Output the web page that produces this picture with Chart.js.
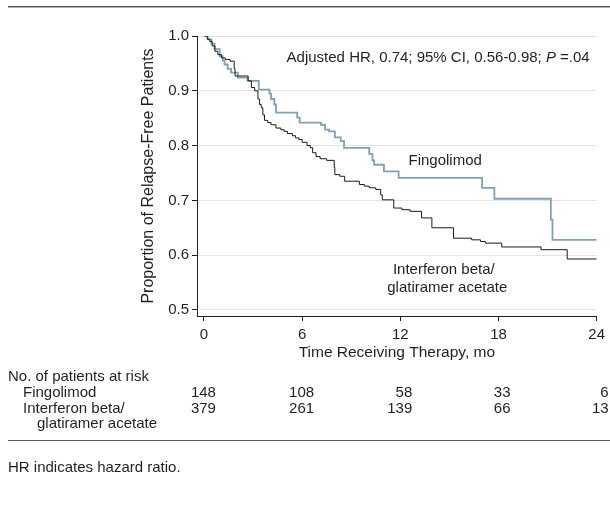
<!DOCTYPE html>
<html>
<head>
<meta charset="utf-8">
<script src="https://cdn.jsdelivr.net/npm/chart.js@4.4.1/dist/chart.umd.min.js"></script>
<style>
  body { margin: 0; background: #fff; }
  #wrap { position: relative; width: 610px; height: 514px; }
  #note { position: absolute; left: 8px; top: 458px; font: 15px 'Liberation Sans', Arial, sans-serif; color: #231f20; }
</style>
</head>
<body>
<div id="wrap">
  <canvas id="km" width="610" height="514"></canvas>
  <div id="note">HR indicates hazard ratio.</div>
</div>
<script>
// Kaplan-Meier steps (months, proportion relapse-free)
const fingTime = [0, 0.24, 0.45, 0.65, 0.96, 1.15, 1.26, 1.45, 1.66, 2.07, 2.67, 3.35, 4.0, 4.1, 4.3, 4.4, 5.7, 5.85, 7.15, 7.4, 7.65, 8.0, 8.36, 8.56, 10.1, 10.3, 10.4, 11.0, 11.9, 17.0, 17.75, 21.2, 21.3, 24];
const fingSurv = [1.0, 0.994, 0.986, 0.976, 0.963, 0.955, 0.948, 0.94, 0.933, 0.924, 0.918, 0.902, 0.895, 0.885, 0.875, 0.86, 0.851, 0.842, 0.838, 0.829, 0.826, 0.815, 0.808, 0.796, 0.785, 0.773, 0.765, 0.753, 0.741, 0.723, 0.703, 0.665, 0.628, 0.628];

const ifnTime = [0, 0.2, 0.36, 0.5, 0.67, 0.85, 1.07, 1.3, 1.6, 1.85, 1.9, 2.7, 2.9, 3.1, 3.3, 3.4, 3.5, 3.6, 3.7, 3.9, 4.1, 4.4, 4.7, 4.9, 5.1, 5.4, 5.6, 5.8, 6.0, 6.3, 6.5, 6.64, 6.85, 7.1, 7.5, 7.96, 8.0, 8.3, 8.6, 9.5, 9.8, 10.1, 10.5, 10.8, 10.9, 11.6, 12.1, 12.6, 13.3, 13.93, 15.25, 16.36, 16.9, 17.2, 18.2, 20.6, 22.2, 24];
const ifnSurv = [1.0, 0.994, 0.99, 0.982, 0.972, 0.966, 0.96, 0.957, 0.954, 0.94, 0.927, 0.918, 0.906, 0.9, 0.885, 0.875, 0.869, 0.856, 0.846, 0.842, 0.838, 0.832, 0.829, 0.826, 0.822, 0.818, 0.814, 0.811, 0.806, 0.8, 0.796, 0.787, 0.78, 0.776, 0.773, 0.76, 0.747, 0.744, 0.735, 0.729, 0.726, 0.723, 0.72, 0.71, 0.701, 0.686, 0.683, 0.68, 0.668, 0.65, 0.631, 0.628, 0.625, 0.622, 0.615, 0.61, 0.593, 0.593];

const xTicks = [0, 6, 12, 18, 24];
const yTicks = [0.5, 0.6, 0.7, 0.8, 0.9, 1.0];
const riskFing = [148, 108, 58, 33, 6];
const riskIfn = [379, 261, 139, 66, 13];

const FONT_FAMILY = "'Liberation Sans', Arial, sans-serif";
const INK = '#231f20';

function toPoints(ts, vs) {
  return ts.map((t, i) => ({ x: t, y: vs[i] }));
}

// rules, in-plot labels and the numbers-at-risk table
const extras = {
  id: 'extras',
  afterDraw(chart) {
    const { ctx, scales: { x, y } } = chart;
    ctx.save();
    ctx.fillStyle = '#58595b';
    ctx.fillRect(8, 6, 602, 1.5);
    ctx.fillRect(8, 440, 602, 1);

    ctx.fillStyle = INK;
    ctx.font = '15px ' + FONT_FAMILY;
    ctx.textBaseline = 'alphabetic';
    ctx.textAlign = 'left';

    // HR annotation with italic P
    let px = x.getPixelForValue(5.05);
    const py = 62;
    const part1 = 'Adjusted HR, 0.74; 95% CI, 0.56-0.98; ';
    ctx.fillText(part1, px, py);
    px += ctx.measureText(part1).width;
    ctx.font = 'italic 15px ' + FONT_FAMILY;
    ctx.fillText('P', px, py);
    px += ctx.measureText('P').width;
    ctx.font = '15px ' + FONT_FAMILY;
    ctx.fillText(' =.04', px, py);

    ctx.fillText('Fingolimod', x.getPixelForValue(12.5), 165);
    ctx.fillText('Interferon beta/', x.getPixelForValue(11.55), 274);
    ctx.fillText('glatiramer acetate', x.getPixelForValue(11.2), 292);

    // numbers at risk
    ctx.fillText('No. of patients at risk', 8, 381);
    ctx.fillText('Fingolimod', 23, 397);
    ctx.fillText('Interferon beta/', 23, 413);
    ctx.fillText('glatiramer acetate', 37, 428);
    ctx.textAlign = 'right';
    xTicks.forEach((t, i) => {
      const cx = x.getPixelForValue(t) + 12;
      ctx.fillText(String(riskFing[i]), cx, 397);
      ctx.fillText(String(riskIfn[i]), cx, 413);
    });
    ctx.restore();
  }
};

const chart = new Chart(document.getElementById('km'), {
  type: 'line',
  data: {
    datasets: [
      {
        label: 'Interferon beta/glatiramer acetate',
        data: toPoints(ifnTime, ifnSurv),
        stepped: 'before',
        borderColor: '#1a1a1a',
        borderWidth: 1,
        pointRadius: 0,
        fill: false
      },
      {
        label: 'Fingolimod',
        data: toPoints(fingTime, fingSurv),
        stepped: 'before',
        borderColor: '#7fa1b1',
        borderWidth: 1.8,
        pointRadius: 0,
        fill: false
      }
    ]
  },
  options: {
    responsive: false,
    animation: false,
    layout: { padding: { left: 0, top: 36, right: 11, bottom: 148 } },
    plugins: { legend: { display: false }, tooltip: { enabled: false } },
    scales: {
      x: {
        type: 'linear',
        min: -0.425,
        max: 24,
        afterBuildTicks: s => { s.ticks = xTicks.map(v => ({ value: v })); },
        afterFit: s => { s.height = 50; },
        grid: { drawOnChartArea: false, drawTicks: true, tickLength: 5, tickColor: INK, tickWidth: 1 },
        border: { color: INK, width: 1 },
        ticks: { color: INK, font: { family: FONT_FAMILY, size: 15 }, padding: 5, maxRotation: 0, autoSkip: false },
        title: { display: true, text: 'Time Receiving Therapy, mo', color: INK, font: { family: FONT_FAMILY, size: 15.5 }, padding: { top: 0, bottom: 4 } }
      },
      y: {
        min: 0.489,
        max: 1.0,
        afterBuildTicks: s => { s.ticks = yTicks.map(v => ({ value: v })); },
        afterFit: s => { s.width = 197; },
        grid: { color: '#e3e3e3', lineWidth: 1, drawTicks: true, tickLength: 5, tickColor: INK, tickWidth: 1 },
        border: { color: INK, width: 1 },
        ticks: { color: INK, font: { family: FONT_FAMILY, size: 15 }, padding: 3, callback: v => v.toFixed(1) },
        title: { display: true, text: 'Proportion of Relapse-Free Patients', color: INK, font: { family: FONT_FAMILY, size: 16 }, padding: { top: 139, bottom: 0 } }
      }
    }
  },
  plugins: [extras]
});
</script>
</body>
</html>
